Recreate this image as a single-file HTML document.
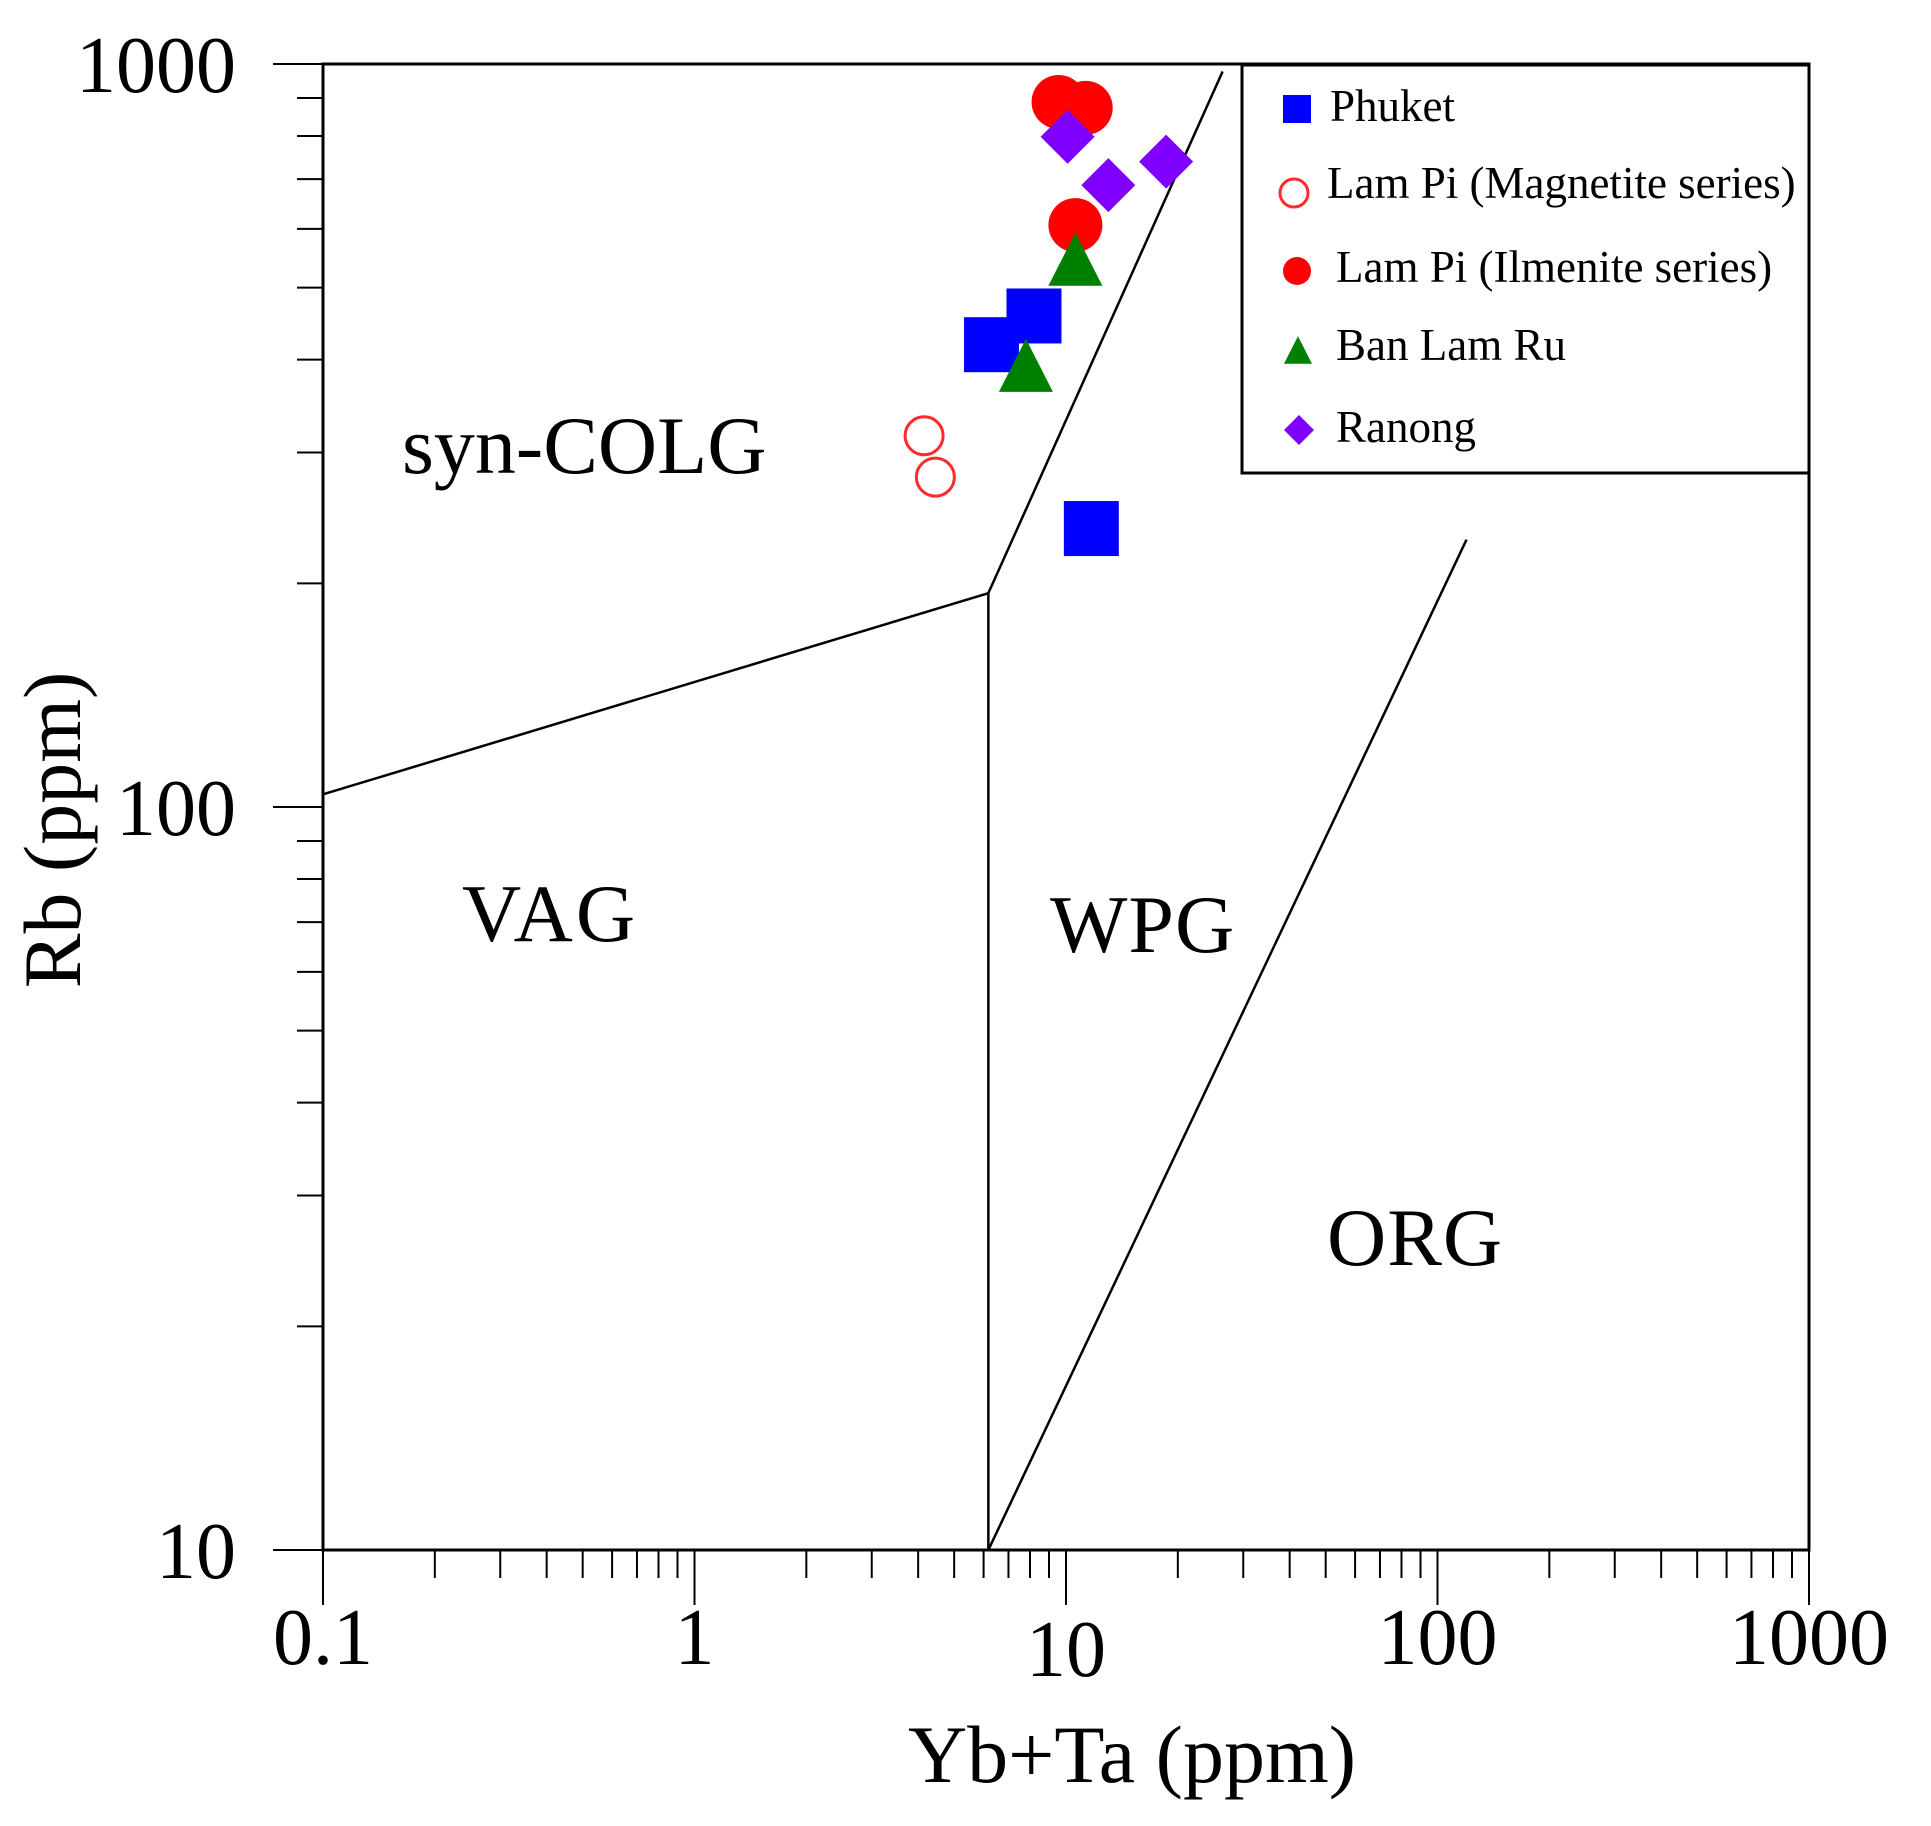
<!DOCTYPE html>
<html><head><meta charset="utf-8"><style>
html,body{margin:0;padding:0;background:#fff;}
svg{display:block;font-family:"Liberation Serif",serif;}
</style></head><body>
<svg id="chart" width="1931" height="1826" viewBox="0 0 1931 1826">
<g id="axes"></g>
<g id="bounds"></g>
<g id="labels">
<text x="402" y="473" font-size="82">syn-COLG</text>
<text x="462" y="941" font-size="82" letter-spacing="3">VAG</text>
<text x="1050" y="952" font-size="82" letter-spacing="1">WPG</text>
<text x="1327" y="1265" font-size="82" letter-spacing="1">ORG</text>
</g>
<g id="marks"></g>
<g id="legend">
<rect x="1242" y="65" width="567" height="408" fill="#fff" stroke="#000" stroke-width="3"/>
</g>
<text x="1132" y="1782" font-size="82" text-anchor="middle">Yb+Ta (ppm)</text>
<text transform="translate(80,830) rotate(-90)" font-size="82" text-anchor="middle">Rb (ppm)</text>
</svg>
<script>
const xTicks = [0.1, 1, 10, 100, 1000];
const xTickLabels = ["0.1", "1", "10", "100", "1000"];
const yTicks = [10, 100, 1000];
const yTickLabels = ["10", "100", "1000"];
const phuketX = [6.3, 8.2, 11.7];
const phuketY = [419, 458, 237];
const magnetiteX = [4.15, 4.45];
const magnetiteY = [316, 278];
const ilmeniteX = [9.55, 11.3, 10.6];
const ilmeniteY = [889, 873, 607];
const banLamRuX = [10.6, 7.8];
const banLamRuY = [546, 393];
const ranongX = [10.1, 13.0, 18.6];
const ranongY = [798, 687, 739];
const boundaryVagColgX = [0.1, 6.18];
const boundaryVagColgY = [104, 194];
const boundaryVagWpgX = [6.18, 6.18];
const boundaryVagWpgY = [10, 194];
const boundaryColgWpgX = [6.18, 26.4];
const boundaryColgWpgY = [194, 977];
const boundaryWpgOrgX = [6.18, 119.7];
const boundaryWpgOrgY = [10, 229];
const legendNames = ["Phuket", "Lam Pi (Magnetite series)", "Lam Pi (Ilmenite series)", "Ban Lam Ru", "Ranong"];

const L=323,R=1809,T=64,B=1550;
const sx=v=>L+(Math.log10(v)+1)*(R-L)/4;
const sy=v=>B-(Math.log10(v)-1)*(B-T)/2;
const NS="http://www.w3.org/2000/svg";
function mk(tag,attrs,parent){const e=document.createElementNS(NS,tag);for(const k in attrs)e.setAttribute(k,attrs[k]);parent.appendChild(e);return e;}
const axes=document.getElementById('axes');
let fr=mk('rect',{x:L,y:T,width:R-L,height:B-T,fill:'none',stroke:'#000','stroke-width':3},axes);


for(let d=0;d<4;d++){const base=xTicks[d];for(let m=1;m<=10;m++){const v=base*m;const px=sx(v);const len=(m===1||m===10)?55:28;
 let t=mk('line',{x1:px,x2:px,y1:B,y2:B+len,stroke:'#000','stroke-width':2},axes);
 
 }}
xTicks.forEach((v,i)=>{let t=mk('text',{x:sx(v),y:i===2?1676:1664,'font-size':80,'text-anchor':'middle'},axes);t.textContent=xTickLabels[i];
 
 });
for(let d=0;d<2;d++){const base=yTicks[d];for(let m=1;m<=10;m++){const v=base*m;const py=sy(v);const len=(m===1||m===10)?50:26;
 let t=mk('line',{x1:L-len,x2:L,y1:py,y2:py,stroke:'#000','stroke-width':2},axes);
 
 }}
yTicks.forEach((v,i)=>{let t=mk('text',{x:236,y:sy(v)+28,'font-size':80,'text-anchor':'end'},axes);t.textContent=yTickLabels[i];
 
 });
const bounds=document.getElementById('bounds');
[[boundaryVagColgX,boundaryVagColgY,'vag-colg-boundary'],[boundaryVagWpgX,boundaryVagWpgY,'vag-wpg-boundary'],[boundaryColgWpgX,boundaryColgWpgY,'colg-wpg-boundary'],[boundaryWpgOrgX,boundaryWpgOrgY,'wpg-org-boundary']].forEach(b=>{
 let l=mk('line',{x1:sx(b[0][0]),y1:sy(b[1][0]),x2:sx(b[0][1]),y2:sy(b[1][1]),stroke:'#000','stroke-width':2.5},bounds);
 
 
});
function square(g,cx,cy,s,c){return mk('rect',{x:cx-s/2,y:cy-s/2,width:s,height:s,fill:c},g);}
function circ(g,cx,cy,r,c,open){return mk('circle',{cx,cy,r,fill:open?'none':c,stroke:open?c:'none','stroke-width':3},g);}
function tri(g,cx,cy,s,c){const h=s*0.98;return mk('polygon',{points:`${cx},${cy-h/2} ${cx+s/2},${cy+h/2} ${cx-s/2},${cy+h/2}`,fill:c},g);}
function dia(g,cx,cy,r,c){return mk('polygon',{points:`${cx},${cy-r} ${cx+r},${cy} ${cx},${cy+r} ${cx-r},${cy}`,fill:c},g);}
const marks=document.getElementById('marks');
phuketX.forEach((x,i)=>{const e=square(marks,sx(x),sy(phuketY[i]),55,'#0000ff');
 
 });
magnetiteX.forEach((x,i)=>{const e=circ(marks,sx(x),sy(magnetiteY[i]),19,'#ff2a2a',true);
 
 });
ilmeniteX.forEach((x,i)=>{const e=circ(marks,sx(x),sy(ilmeniteY[i]),27,'#ff0000',false);
 
 });
banLamRuX.forEach((x,i)=>{const e=tri(marks,sx(x),sy(banLamRuY[i]),54,'#008000');
 
 });
ranongX.forEach((x,i)=>{const e=dia(marks,sx(x),sy(ranongY[i]),27,'#7f00ff');
 
 });
const lg=document.getElementById('legend');
const rowY=[109,193,271,350,430], base=[121,198,282,360,442], tx=[1330,1327,1336,1336,1336];
const drawers=[(y)=>square(lg,1297,y,28,'#0000ff'),(y)=>circ(lg,1294,y,14,'#ff2a2a',true),(y)=>circ(lg,1297,y,14,'#ff0000',false),(y)=>tri(lg,1298,y,28,'#008000'),(y)=>dia(lg,1299,y,15,'#7f00ff')];
legendNames.forEach((n,i)=>{const m=drawers[i](rowY[i]);
 
 
 const t=mk('text',{x:tx[i],y:base[i],'font-size':45},lg);t.textContent=n;
 
 });
</script>
</body></html>
